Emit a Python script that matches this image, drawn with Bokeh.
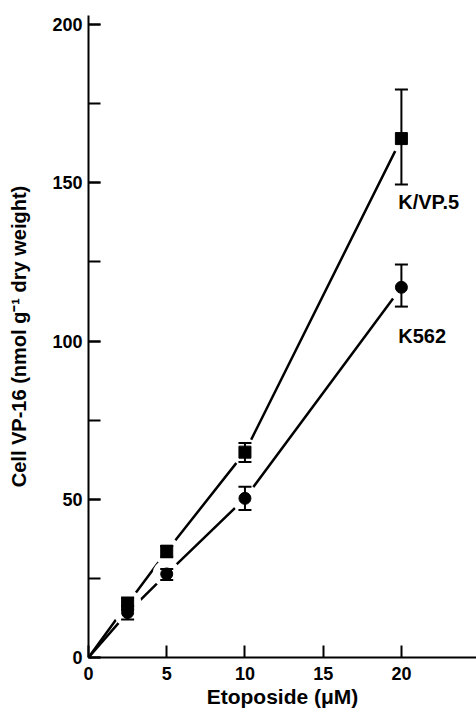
from bokeh.plotting import figure
from bokeh.models import (SingleIntervalTicker, FixedTicker, Whisker, TeeHead,
                          ColumnDataSource, Range1d)
from bokeh.embed import file_html
from bokeh.resources import INLINE
from bokeh.core.properties import value

# ---- data ----
etoposide_uM = [2.5, 5, 10, 20]
kvp5_vp16 = [17.0, 33.6, 64.9, 164.0]
kvp5_upper = [19.0, 35.2, 67.8, 179.5]
kvp5_lower = [15.0, 31.7, 61.8, 149.5]
k562_vp16 = [14.2, 26.4, 50.3, 117.0]
k562_upper = [16.3, 28.0, 54.0, 124.2]
k562_lower = [12.0, 24.5, 46.6, 110.9]
origin_x = [0.0]
origin_y = [0.0]
series_names = ["K/VP.5", "K562"]
x_ticks = [0, 5, 10, 15, 20]

FONT = "Liberation Sans"

p = figure(width=476, height=712, output_backend="svg", toolbar_location=None,
           x_range=Range1d(0, 24.8), y_range=Range1d(0, 202.9),
           min_border_left=88, min_border_right=0, min_border_top=15,
           min_border_bottom=55)
p.outline_line_color = None
p.grid.visible = False
p.background_fill_color = "white"

kvp_src = ColumnDataSource(dict(x=etoposide_uM, y=kvp5_vp16, up=kvp5_upper, lo=kvp5_lower))
k562_src = ColumnDataSource(dict(x=etoposide_uM, y=k562_vp16, up=k562_upper, lo=k562_lower))

# lines through the origin
p.line(origin_x + etoposide_uM, origin_y + kvp5_vp16, line_color="black", line_width=2.5)
p.line(origin_x + etoposide_uM, origin_y + k562_vp16, line_color="black", line_width=2.5)

# white halos to break the lines around the points
p.scatter("x", "y", source=kvp_src, size=28, marker="circle", fill_color="white", line_color=None)
p.scatter("x", "y", source=k562_src, size=28, marker="circle", fill_color="white", line_color=None)

# error bars
for src in (kvp_src, k562_src):
    w = Whisker(source=src, base="x", upper="up", lower="lo", dimension="height",
                line_color="black", line_width=2, level="overlay",
                upper_head=TeeHead(size=13, line_width=2, line_color="black"),
                lower_head=TeeHead(size=13, line_width=2, line_color="black"))
    p.add_layout(w)

# markers
p.scatter("x", "y", source=kvp_src, marker="square", size=12, fill_color="black", line_color="black")
p.scatter("x", "y", source=k562_src, marker="circle", size=12, fill_color="black", line_color="black")

# series labels
p.text(x=[19.8, 19.8], y=[143.8, 101.5], text=series_names,
       text_font=value(FONT), text_font_size="20px", text_font_style="bold",
       text_baseline="middle", text_align="left", text_color="black")

# axes
for ax in (p.xaxis[0], p.yaxis[0]):
    ax.axis_line_width = 2
    ax.axis_line_color = "black"
    ax.major_tick_in = 12
    ax.major_tick_out = 0
    ax.major_tick_line_width = 2
    ax.major_tick_line_color = "black"
    ax.major_label_text_font = FONT
    ax.major_label_text_font_size = "18px"
    ax.major_label_text_font_style = "bold"
    ax.major_label_text_color = "black"
    ax.axis_label_text_font = FONT
    ax.axis_label_text_font_style = "bold"
    ax.axis_label_text_color = "black"

p.xaxis.ticker = FixedTicker(ticks=x_ticks)
p.xaxis.minor_tick_line_color = None
p.xaxis.major_label_standoff = 9
p.xaxis.axis_label_standoff = 2
p.xaxis.axis_label_text_font_size = "21px"
p.xaxis.axis_label = "Etoposide (μM)"

p.yaxis.ticker = SingleIntervalTicker(interval=50, num_minor_ticks=2)
p.yaxis.minor_tick_in = 12
p.yaxis.minor_tick_out = 0
p.yaxis.minor_tick_line_width = 2
p.yaxis.minor_tick_line_color = "black"
p.yaxis.major_label_standoff = 6
p.yaxis.axis_label_standoff = 19
p.yaxis.axis_label_text_font_size = "20px"
p.yaxis.axis_label = "Cell VP-16 (nmol g\u207b\u00b9 dry weight)"

open("out.html", "w").write(file_html(p, INLINE))
